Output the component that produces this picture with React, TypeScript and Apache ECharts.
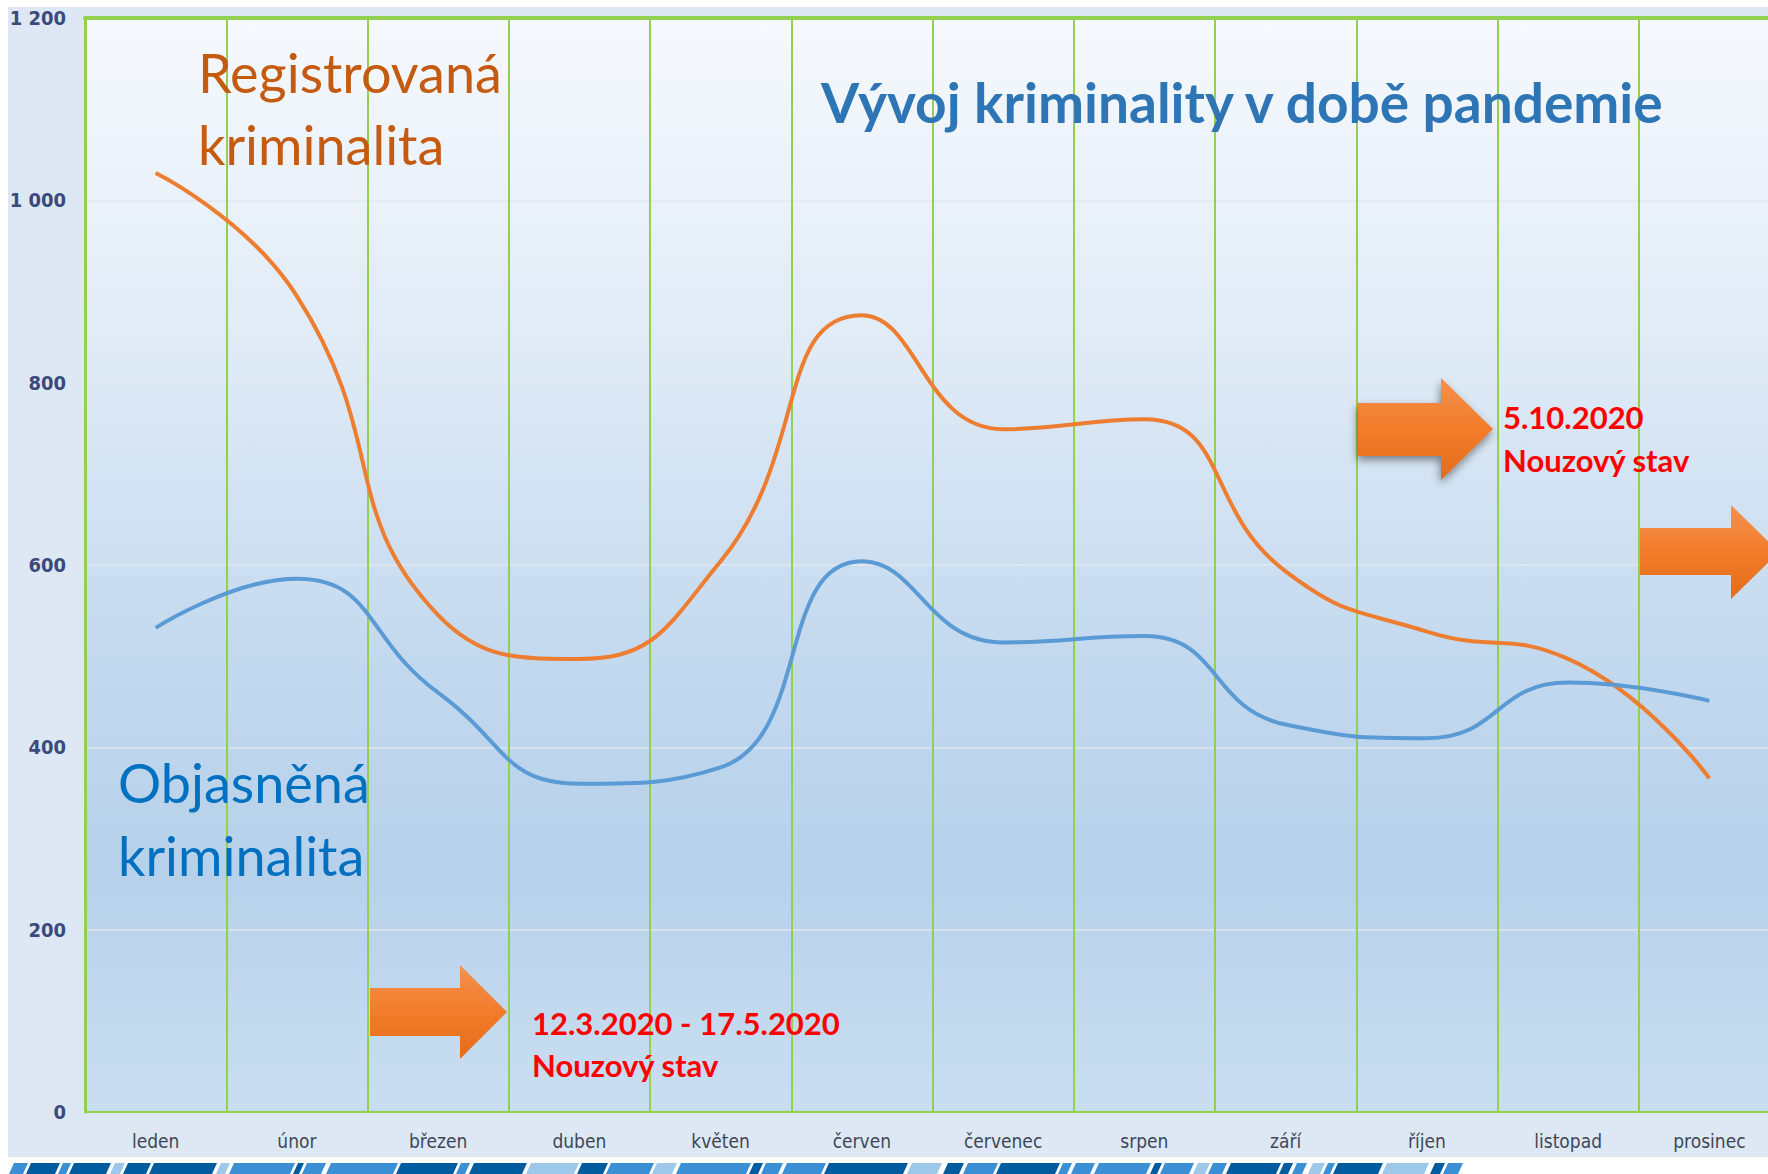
import React, { useEffect, useRef } from "react";
import * as echarts from "echarts";

const months = ["leden", "únor", "březen", "duben", "květen", "červen", "červenec", "srpen", "září", "říjen", "listopad", "prosinec"];
const registrovana = [1030, 895, 545, 497, 604, 874, 749, 760, 593, 527, 497, 366];
const objasnena = [531, 585, 460, 360, 378, 604, 515, 522, 425, 410, 471, 451];
const yMin = 0;
const yMax = 1200;
const yStep = 200;

const titleText = "Vývoj kriminality v době pandemie";
const regLabel = ["Registrovaná", "kriminalita"];
const objLabel = ["Objasněná", "kriminalita"];
const note1 = ["12.3.2020 - 17.5.2020", "Nouzový stav"];
const note2 = ["5.10.2020", "Nouzový stav"];

// decorative stripe bar under the chart: [x0, x1, shade]
const stripeSegs: [number, number, string][] = [
  [9, 23, "M"], [26, 55, "D"], [58, 66, "M"], [69, 106, "D"], [110, 120, "L"], [123, 146, "D"],
  [149, 212, "D"], [216, 225, "L"], [229, 290, "M"], [293, 299, "D"], [302, 321, "M"], [326, 393, "M"],
  [396, 453, "D"], [456, 465, "M"], [469, 522, "D"], [526, 574, "L"], [577, 603, "D"], [606, 649, "M"],
  [652, 672, "L"], [676, 746, "M"], [749, 758, "D"], [761, 778, "M"], [782, 821, "M"], [824, 903, "D"],
  [907, 937, "L"], [943, 959, "D"], [963, 993, "M"], [996, 1055, "D"], [1058, 1067, "M"], [1071, 1090, "M"],
  [1094, 1146, "M"], [1150, 1157, "D"], [1160, 1189, "M"], [1193, 1205, "L"], [1208, 1222, "M"], [1226, 1276, "D"],
  [1279, 1288, "D"], [1292, 1302, "M"], [1308, 1320, "L"], [1323, 1330, "M"], [1333, 1378, "D"], [1382, 1424, "L"],
  [1430, 1440, "D"], [1443, 1458, "M"],
];
const shade: Record<string, string> = { D: "#005b9f", M: "#3a8fd5", L: "#9dc8ea" };

const FONT_NARROW = '"Liberation Sans Narrow", "DejaVu Sans Condensed", "Liberation Sans", sans-serif';
const FONT_CAL = 'Lato, "Open Sans", sans-serif';

function arrowGradient() {
  return new echarts.graphic.LinearGradient(0, 0, 0, 1, [
    { offset: 0, color: "#f3914f" },
    { offset: 0.5, color: "#f27c2a" },
    { offset: 1, color: "#e46c1c" },
  ]);
}

function arrowPoints(x0: number, xb: number, tip: number, bt: number, bb: number, ht: number, hb: number) {
  const cy = (ht + hb) / 2;
  return [
    [x0, bt], [xb, bt], [xb, ht], [tip, cy], [xb, hb], [xb, bb], [x0, bb],
  ];
}

export default function App() {
  const ref = useRef<HTMLDivElement>(null);
  useEffect(() => {
    if (!ref.current) return;
    const chart = echarts.init(ref.current, undefined, { renderer: "svg" });

    const graphics: any[] = [];
    graphics.push({
      type: "rect", z: -10, silent: true,
      shape: { x: 8, y: 7, width: 1760, height: 1150 },
      style: { fill: "#dde8f4" },
    });
    const skew = 5;
    stripeSegs.forEach(([a, b, c]) => {
      graphics.push({
        type: "polygon", z: 1, silent: true,
        shape: { points: [[a + skew, 1163], [b + skew, 1163], [b, 1174], [a, 1174]] },
        style: { fill: shade[c] },
      });
    });
    graphics.push({
      type: "text", z: 10, x: 821, y: 102,
      style: { text: titleText, fill: "#2e75b6", font: `bold 55px ${FONT_CAL}`, textVerticalAlign: "middle" },
    });
    regLabel.forEach((t, i) => graphics.push({
      type: "text", z: 10, x: 198, y: 72 + i * 72,
      style: { text: t, fill: "#c55a11", font: `54px ${FONT_CAL}`, textVerticalAlign: "middle" },
    }));
    objLabel.forEach((t, i) => graphics.push({
      type: "text", z: 10, x: 118, y: 782 + i * 73,
      style: { text: t, fill: "#0070c0", font: `54px ${FONT_CAL}`, textVerticalAlign: "middle" },
    }));
    note1.forEach((t, i) => graphics.push({
      type: "text", z: 10, x: 532, y: 1023 + i * 42,
      style: { text: t, fill: "#ff0000", font: `bold 31px ${FONT_CAL}`, textVerticalAlign: "middle" },
    }));
    note2.forEach((t, i) => graphics.push({
      type: "text", z: 10, x: 1503, y: 417 + i * 43,
      style: { text: t, fill: "#ff0000", font: `bold 31px ${FONT_CAL}`, textVerticalAlign: "middle" },
    }));
    graphics.push({
      type: "polygon", z: 9,
      shape: { points: arrowPoints(370, 460, 507, 988, 1036, 965, 1059) },
      style: { fill: arrowGradient() },
    });
    graphics.push({
      type: "polygon", z: 9,
      shape: { points: arrowPoints(1358, 1441, 1493, 403, 456, 378, 480) },
      style: { fill: arrowGradient(), shadowBlur: 8, shadowColor: "rgba(0,0,0,0.45)", shadowOffsetX: -1, shadowOffsetY: 4 },
    });
    graphics.push({
      type: "polygon", z: 9,
      shape: { points: arrowPoints(1640, 1731, 1779, 528, 575, 505, 599) },
      style: { fill: arrowGradient() },
    });

    chart.setOption({
      animation: false,
      backgroundColor: "#ffffff",
      grid: {
        left: 85, width: 1695, top: 18, bottom: 62,
        outerBoundsMode: "none",
        containLabel: false,
        show: true, borderWidth: 0,
        backgroundColor: new echarts.graphic.LinearGradient(0, 0, 0, 1, [
          { offset: 0, color: "#f6f9fd" },
          { offset: 0.3, color: "#e0ebf6" },
          { offset: 0.6, color: "#c2d8ee" },
          { offset: 0.78, color: "#b6d1ea" },
          { offset: 1, color: "#cadef1" },
        ]),
      },
      xAxis: [
        {
          type: "category", data: months, boundaryGap: true,
          axisLine: { show: true, lineStyle: { color: "#92d050", width: 2 } },
          axisTick: { show: false },
          axisLabel: { color: "#3f4756", fontSize: 19, fontFamily: FONT_NARROW, margin: 19, interval: 0 },
          splitLine: { show: true, interval: 0, lineStyle: { color: "#92d050", width: 2 } },
        },
        {
          type: "category", data: months, position: "top", boundaryGap: true,
          axisLine: { show: true, lineStyle: { color: "#92d050", width: 4 } },
          axisTick: { show: false }, axisLabel: { show: false }, splitLine: { show: false },
        },
      ],
      yAxis: {
        type: "value", min: yMin, max: yMax, interval: yStep,
        axisLine: { show: true, lineStyle: { color: "#92d050", width: 3 } },
        axisTick: { show: false },
        axisLabel: {
          color: "#3b4a7c", fontSize: 20, fontWeight: "bold", fontFamily: FONT_NARROW, margin: 19,
          formatter: (v: number) => (v >= 1000 ? `${Math.floor(v / 1000)} ${String(v % 1000).padStart(3, "0")}` : String(v)),
        },
        splitLine: { show: true, lineStyle: { color: "#e3e7ec", width: 1.5 } },
      },
      series: [
        {
          name: "Registrovaná kriminalita", type: "line", data: registrovana, smooth: 0.5,
          showSymbol: false, lineStyle: { color: "#ed7d31", width: 4 }, itemStyle: { color: "#ed7d31" }, z: 3,
        },
        {
          name: "Objasněná kriminalita", type: "line", data: objasnena, smooth: 0.5,
          showSymbol: false, lineStyle: { color: "#5b9bd5", width: 4 }, itemStyle: { color: "#5b9bd5" }, z: 3,
        },
      ],
      graphic: { elements: graphics },
    });
    return () => chart.dispose();
  }, []);
  return <div ref={ref} style={{ position: "absolute", left: 0, top: 0, width: 1768, height: 1174 }} />;
}
